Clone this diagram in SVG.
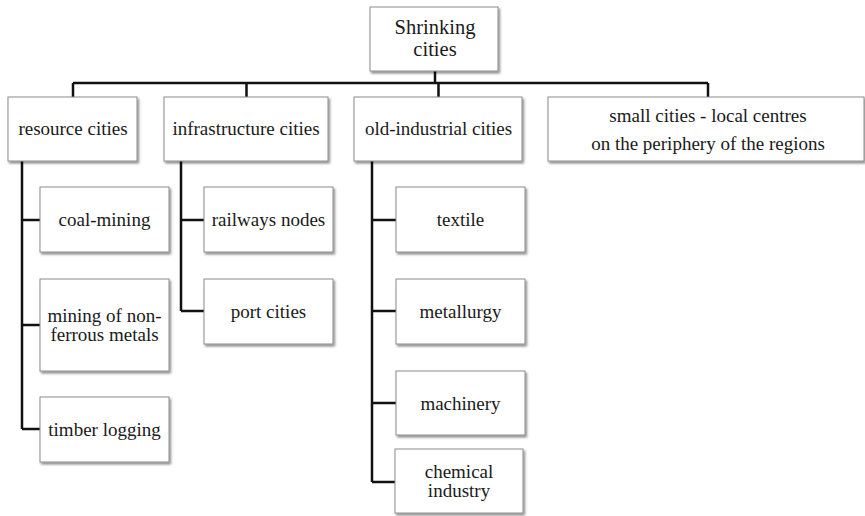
<svg xmlns="http://www.w3.org/2000/svg" width="865" height="516" viewBox="0 0 865 516">
<defs>
<filter id="sh" x="-10%" y="-10%" width="130%" height="140%">
<feDropShadow dx="1.5" dy="2" stdDeviation="1.2" flood-color="#000" flood-opacity="0.45"/>
</filter>
<style>
.b{fill:#fff;stroke:#8c8c8c;stroke-width:1;filter:url(#sh)}
text{font-family:'Liberation Serif','Times New Roman',Times,'DejaVu Serif',serif;font-size:19px;fill:#1a1a1a;text-anchor:middle}
.r{font-size:20.5px}
.c{fill:none;stroke:#111;stroke-width:2.5}
</style>
</defs>
<rect width="865" height="516" fill="#fff"/>
<g id="connectors">
<path class="c" d="M435 71V83M73 83H708M73 83V97M246.5 83V97M438.5 83V97M708 83V97"/>
<path class="c" d="M22 161V429M22 220H40M22 325H40M22 429H40"/>
<path class="c" d="M181 161V311M181 220H204M181 311H204"/>
<path class="c" d="M372 161V482M372 220H396M372 311H396M372 403H396M372 482H395"/>
</g>
<g id="root"><rect class="b" x="370" y="7" width="128" height="64"/><text class="r" x="435" y="34">Shrinking</text><text class="r" x="435" y="56">cities</text></g>
<g id="resource"><rect class="b" x="8" y="97" width="129" height="64"/><text x="73" y="135">resource cities</text></g>
<g id="infrastructure"><rect class="b" x="164" y="97" width="164" height="64"/><text x="246" y="135">infrastructure cities</text></g>
<g id="oldindustrial"><rect class="b" x="354" y="97" width="168" height="64"/><text x="438.5" y="135">old-industrial cities</text></g>
<g id="small"><rect class="b" x="548" y="97" width="316" height="64"/><text x="708" y="122">small cities - local centres</text><text x="708" y="150">on the periphery of the regions</text></g>
<g id="coal"><rect class="b" x="40" y="187" width="129" height="65"/><text x="104.5" y="226">coal-mining</text></g>
<g id="nonferrous"><rect class="b" x="40" y="279" width="129" height="92"/><text x="104.5" y="322">mining of non-</text><text x="104.5" y="341">ferrous metals</text></g>
<g id="timber"><rect class="b" x="40" y="397" width="129" height="65"/><text x="104.5" y="436">timber logging</text></g>
<g id="railways"><rect class="b" x="204" y="187" width="129" height="65"/><text x="268.5" y="226">railways nodes</text></g>
<g id="port"><rect class="b" x="204" y="279" width="129" height="65"/><text x="268.5" y="318">port cities</text></g>
<g id="textile"><rect class="b" x="396" y="187" width="129" height="65"/><text x="460.5" y="226">textile</text></g>
<g id="metallurgy"><rect class="b" x="396" y="279" width="129" height="65"/><text x="460.5" y="318">metallurgy</text></g>
<g id="machinery"><rect class="b" x="396" y="371" width="129" height="64"/><text x="460.5" y="410">machinery</text></g>
<g id="chemical"><rect class="b" x="395" y="449" width="128" height="64"/><text x="459" y="478">chemical</text><text x="459" y="497">industry</text></g>
</svg>
